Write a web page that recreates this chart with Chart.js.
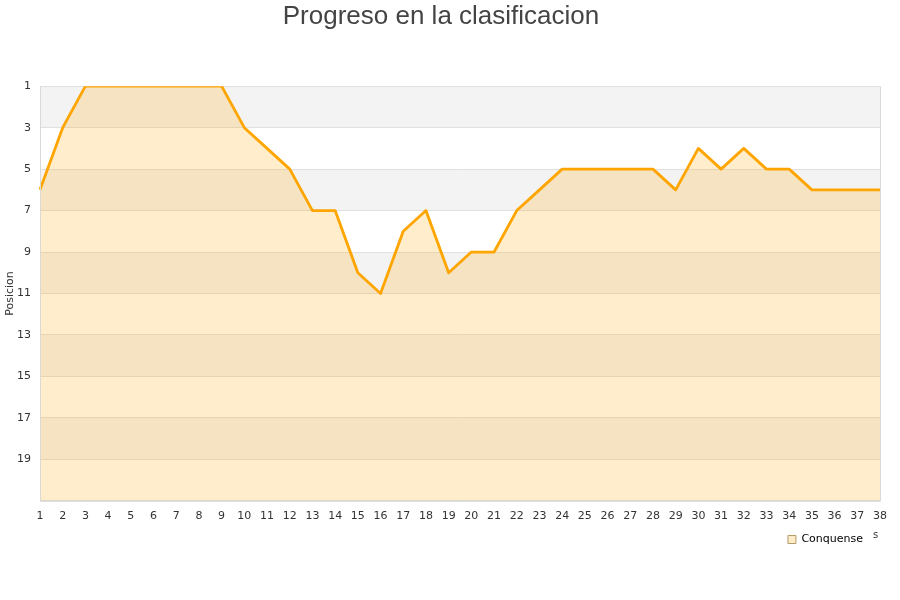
<!DOCTYPE html>
<html>
<head>
<meta charset="utf-8">
<script src="https://cdn.jsdelivr.net/npm/chart.js@4/dist/chart.umd.min.js"></script>
<style>
  html, body { margin: 0; padding: 0; background: #fff; }
  #wrap { width: 900px; height: 600px; }
</style>
</head>
<body>
<div id="wrap"><canvas id="chart" width="900" height="600"></canvas></div>
<script>
// jornadas 1..38
const jornadas = Array.from({ length: 38 }, (_, i) => String(i + 1));
// posicion en cada jornada
const posiciones = [6, 3, 1, 1, 1, 1, 1, 1, 1, 3, 4, 5, 7, 7, 10, 11, 8, 7, 10, 9,
                    9, 7, 6, 5, 5, 5, 5, 5, 6, 4, 5, 4, 5, 5, 6, 6, 6, 6];
const yTicks = [1, 3, 5, 7, 9, 11, 13, 15, 17, 19];

// alternating grey / white bands behind the plot
const bandsPlugin = {
  id: 'bands',
  beforeDraw(chart) {
    const { ctx, chartArea: a, scales: { y } } = chart;
    ctx.save();
    ctx.fillStyle = '#fff';
    ctx.fillRect(0, 0, chart.width, chart.height);
    for (let v = 1; v < 21; v += 4) {
      const top = y.getPixelForValue(v);
      const bot = y.getPixelForValue(v + 2);
      ctx.fillStyle = '#f3f3f3';
      ctx.fillRect(a.left, top, a.right - a.left, bot - top);
    }
    ctx.restore();
  },
  afterDatasetsDraw(chart) {
    const { ctx, chartArea: a } = chart;
    ctx.save();
    ctx.strokeStyle = '#d9d9d9';
    ctx.lineWidth = 1;
    ctx.beginPath();
    ctx.moveTo(a.left + 0.5, a.top);
    ctx.lineTo(a.left + 0.5, a.bottom + 0.5);
    ctx.lineTo(a.right + 0.5, a.bottom + 0.5);
    ctx.lineTo(a.right + 0.5, a.top);
    ctx.stroke();
    // leftover of the clipped x axis title
    ctx.fillStyle = '#333';
    ctx.font = '10px "DejaVu Sans"';
    ctx.fillText('s', 873, 535);
    ctx.restore();
  }
};

new Chart(document.getElementById('chart'), {
  type: 'line',
  data: {
    labels: jornadas,
    datasets: [{
      label: 'Conquense',
      data: posiciones,
      borderColor: '#ffa500',
      borderWidth: 2.8,
      borderJoinStyle: 'round',
      backgroundColor: 'rgba(255, 165, 0, 0.2)',
      fill: 'start',
      pointRadius: 0,
      tension: 0
    }]
  },
  options: {
    responsive: false,
    animation: false,
    layout: { padding: { left: 2, right: 20, top: 0, bottom: 45 } },
    plugins: {
      title: {
        display: true,
        text: 'Progreso en la clasificacion',
        color: '#444',
        font: { family: '"Liberation Sans", Arial', size: 26, weight: 'normal' },
        padding: { top: 1, bottom: 54 }
      },
      legend: {
        position: 'bottom',
        align: 'end',
        labels: {
          color: '#000',
          boxWidth: 8,
          boxHeight: 8,
          font: { family: '"DejaVu Sans"', size: 11 },
          generateLabels: () => [{
            text: 'Conquense  ',
            fillStyle: '#feecc9',
            strokeStyle: '#b59a6a',
            lineWidth: 1
          }]
        }
      },
      tooltip: { enabled: false }
    },
    scales: {
      x: {
        grid: { display: false },
        border: { color: '#d9d9d9' },
        ticks: {
          autoSkip: false,
          maxRotation: 0,
          padding: 1,
          color: '#333',
          font: { family: '"DejaVu Sans"', size: 11 }
        }
      },
      y: {
        reverse: true,
        min: 1,
        max: 21,
        afterBuildTicks: (s) => { s.ticks = yTicks.concat([21]).map(v => ({ value: v })); },
        afterFit: (s) => { s.width = 38; },
        grid: { color: '#e0e0e0', drawTicks: false },
        border: { color: '#d9d9d9' },
        title: {
          display: true,
          text: 'Posicion',
          color: '#333',
          font: { family: '"DejaVu Sans"', size: 11 },
          padding: { top: 2, bottom: 0 }
        },
        ticks: {
          padding: 9,
          color: '#333',
          font: { family: '"DejaVu Sans"', size: 11 },
          callback: (v) => (v === 21 ? '' : v)
        }
      }
    }
  },
  plugins: [bandsPlugin]
});
</script>
</body>
</html>
